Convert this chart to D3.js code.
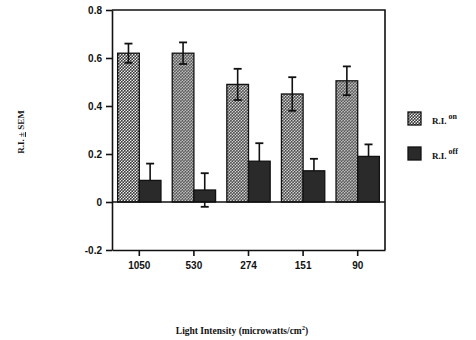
<!DOCTYPE html>
<html>
<head>
<meta charset="utf-8">
<script src="https://cdn.jsdelivr.net/npm/d3@7"></script>
<style>
  body { margin: 0; background: #fff; }
  svg { display: block; }
</style>
</head>
<body>
<svg id="mainsvg" width="476" height="340"></svg>
<script>
const intensities = ['1050', '530', '274', '151', '90']
const series = ['on', 'off']
const riOn = [0.62, 0.62, 0.49, 0.45, 0.505]
const riOnSem = [0.04, 0.045, 0.065, 0.07, 0.06]
const riOff = [0.09, 0.05, 0.17, 0.13, 0.19]
const riOffSem = [0.07, 0.07, 0.075, 0.05, 0.05]
const yTicks = [-0.2, 0, 0.2, 0.4, 0.6, 0.8]

const svg = d3.select('#mainsvg')
const plotL = 112, plotR = 385, plotT = 10, plotB = 250

// dotted fill like the scanned screen tone
const defs = svg.append('defs')
const pat = defs.append('pattern')
    .attr('id', 'dots')
    .attr('patternUnits', 'userSpaceOnUse')
    .attr('width', 3).attr('height', 3)
pat.append('rect').attr('width', 3).attr('height', 3).attr('fill', '#eeeeee')
pat.append('circle').attr('cx', 0.75).attr('cy', 0.75).attr('r', 0.95).attr('fill', '#3a3a3a')
pat.append('circle').attr('cx', 2.25).attr('cy', 2.25).attr('r', 0.95).attr('fill', '#3a3a3a')

const x = d3.scaleBand().domain(intensities).range([plotL, plotR]).padding(0)
const xs = d3.scaleBand().domain(series).range([0, x.bandwidth()]).paddingOuter(0.26).paddingInner(0)
const y = d3.scaleLinear().domain([-0.2, 0.8]).range([plotB, plotT])

const fills = {on: 'url(#dots)', off: '#2a2a2a'}
const rows = intensities.map((k, i) => ({
    key: k,
    vals: [
        {s: 'on', v: riOn[i], e: riOnSem[i]},
        {s: 'off', v: riOff[i], e: riOffSem[i]}
    ]
}))

const g = svg.append('g')
const capW = 8

function drawErr(sel) {
    sel.append('line')
        .attr('x1', d => xs(d.s) + xs.bandwidth() / 2)
        .attr('x2', d => xs(d.s) + xs.bandwidth() / 2)
        .attr('y1', d => y(d.v - d.e))
        .attr('y2', d => y(d.v + d.e))
        .attr('stroke', '#111').attr('stroke-width', 1.6)
    sel.append('line')
        .attr('x1', d => xs(d.s) + xs.bandwidth() / 2 - capW / 2)
        .attr('x2', d => xs(d.s) + xs.bandwidth() / 2 + capW / 2)
        .attr('y1', d => y(d.v + d.e))
        .attr('y2', d => y(d.v + d.e))
        .attr('stroke', '#111').attr('stroke-width', 1.8)
    sel.append('line')
        .attr('x1', d => xs(d.s) + xs.bandwidth() / 2 - capW / 2)
        .attr('x2', d => xs(d.s) + xs.bandwidth() / 2 + capW / 2)
        .attr('y1', d => y(d.v - d.e))
        .attr('y2', d => y(d.v - d.e))
        .attr('stroke', '#111').attr('stroke-width', 1.8)
}

const grp = g.selectAll('g.cat').data(rows).join('g')
    .attr('class', 'cat')
    .attr('transform', d => `translate(${x(d.key)},0)`)

// dark-bar error bars sit behind the bars, so the lower whisker hides in them
grp.selectAll('g.errBack').data(d => d.vals.filter(v => v.s === 'off')).join('g')
    .attr('class', 'errBack').call(drawErr)

grp.selectAll('rect').data(d => d.vals).join('rect')
    .attr('x', d => xs(d.s))
    .attr('y', d => y(Math.max(0, d.v)))
    .attr('width', xs.bandwidth())
    .attr('height', d => Math.abs(y(d.v) - y(0)))
    .attr('fill', d => fills[d.s])
    .attr('stroke', '#111')
    .attr('stroke-width', 1.3)

grp.selectAll('g.errFront').data(d => d.vals.filter(v => v.s === 'on')).join('g')
    .attr('class', 'errFront').call(drawErr)

// zero line
g.append('line')
    .attr('x1', plotL).attr('x2', plotR)
    .attr('y1', y(0)).attr('y2', y(0))
    .attr('stroke', '#111').attr('stroke-width', 1.4)

// frame top & right
g.append('path')
    .attr('d', `M${plotL},${plotT} H${plotR} V${plotB}`)
    .attr('fill', 'none').attr('stroke', '#111').attr('stroke-width', 1.6)

// axes
const yAxis = g.append('g')
    .attr('transform', `translate(${plotL},0)`)
    .call(d3.axisLeft(y).tickValues(yTicks).tickSize(6).tickSizeOuter(0).tickPadding(4)
        .tickFormat(d => d === 0 ? '0' : d.toFixed(1)))
const xAxis = g.append('g')
    .attr('transform', `translate(0,${plotB})`)
    .call(d3.axisBottom(x).tickSize(6).tickSizeOuter(0).tickPadding(6))

;[yAxis, xAxis].forEach(a => {
    a.selectAll('path, line').attr('stroke', '#111').attr('stroke-width', 1.6)
    a.selectAll('text')
        .attr('fill', '#111')
        .style('font-family', '"Liberation Sans", Arial, sans-serif')
        .style('font-weight', 'bold')
        .style('font-size', '10px')
})

// titles
const serif = '"Liberation Serif", "DejaVu Serif", serif'
const yt = svg.append('text')
    .attr('transform', 'translate(24,132) rotate(-90)')
    .attr('text-anchor', 'middle')
    .style('font-family', serif).style('font-weight', 'bold').style('font-size', '9px')
    .attr('fill', '#111')
yt.append('tspan').text('R.I. ')
yt.append('tspan').text('±').style('text-decoration', 'underline')
yt.append('tspan').text(' SEM')

const xt = svg.append('text')
    .attr('x', 242).attr('y', 334)
    .attr('text-anchor', 'middle')
    .style('font-family', serif).style('font-weight', 'bold').style('font-size', '9.5px')
    .attr('fill', '#111')
xt.append('tspan').text('Light Intensity (microwatts/cm')
xt.append('tspan').text('2').attr('dy', -4).style('font-size', '6.5px')
xt.append('tspan').text(')').attr('dy', 4)

// legend
const legend = svg.append('g').attr('transform', 'translate(408,112)')
const li = legend.selectAll('g').data(series).join('g')
    .attr('transform', (d, i) => `translate(0,${i * 35})`)
li.append('rect')
    .attr('width', 13).attr('height', 13)
    .attr('fill', d => fills[d])
    .attr('stroke', '#111').attr('stroke-width', 1.3)
const lt = li.append('text')
    .attr('x', 24).attr('y', 12)
    .style('font-family', serif).style('font-weight', 'bold').style('font-size', '9px')
    .attr('fill', '#111')
lt.append('tspan').text('R.I.')
lt.append('tspan').text(d => d).attr('dx', 2).attr('dy', -5).style('font-size', '8px')
</script>
</body>
</html>
